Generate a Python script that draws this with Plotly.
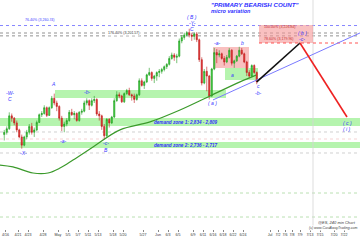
import plotly.graph_objects as go

# ---------------- data ----------------
# half-day candles (ES 240-min look), trading-day index = position / 2
opens = [2780,2790, 2805,2860, 2850,2830, 2800,2770, 2735,2770, 2790,2815, 2790,2800, 2832,2865, 2870,2895, 2862,2895,
         2935,2915, 2900,2850, 2815,2825, 2840,2875, 2865,2870, 2840,2875, 2880,2915, 2925,2905, 2925,2930, 2868,2860,
         2815,2775, 2845,2830, 2855,2925, 2950,2945, 2920,2955, 2968,2950, 2945,2930, 2950,3010, 2990,3005, 3035,3045,
         3020,3030, 3045,3050, 3058,3070, 3080,3105, 3120,3110, 3115,3180, 3195,3205, 3215,3205, 3200,3210, 3185,3100,
         3000,3050, 3030,2945, 3060,3130, 3120,3125, 3105,3090, 3110,3140, 3085,3095, 3115,3140, 3125,3090, 3045,3030,
         3075,3045]
highs = [2800,2815, 2875,2870, 2855,2840, 2805,2780, 2775,2800, 2825,2830, 2810,2840, 2870,2880, 2905,2900, 2900,2945,
         2955,2925, 2905,2860, 2835,2850, 2885,2890, 2880,2875, 2880,2890, 2925,2935, 2930,2935, 2945,2935, 2880,2865,
         2825,2850, 2850,2860, 2935,2965, 2960,2950, 2960,2975, 2980,2955, 2955,2955, 3020,3020, 3010,3040, 3065,3050,
         3035,3050, 3060,3065, 3075,3085, 3115,3130, 3128,3125, 3190,3205, 3215,3222, 3232,3215, 3215,3218, 3190,3110,
         3060,3070, 3035,3065, 3150,3145, 3140,3130, 3115,3120, 3150,3145, 3100,3120, 3155,3150, 3130,3095, 3055,3080,
         3080,3050]
lows = [2755,2780, 2800,2835, 2820,2790, 2765,2720, 2730,2760, 2780,2780, 2770,2795, 2830,2855, 2865,2855, 2860,2890,
        2905,2880, 2840,2795, 2790,2815, 2835,2860, 2845,2835, 2835,2865, 2875,2905, 2885,2900, 2915,2860, 2840,2800,
        2760,2770, 2810,2825, 2850,2920, 2935,2915, 2915,2950, 2945,2925, 2915,2925, 2945,2985, 2975,3000, 3030,3010,
        3000,3010, 3025,3040, 3050,3060, 3075,3100, 3095,3085, 3110,3170, 3185,3200, 3195,3180, 3185,3175, 3090,2990,
        2995,2965, 2930,2940, 3055,3085, 3110,3100, 3075,3085, 3105,3075, 3065,3090, 3110,3120, 3085,3030, 3020,3025,
        3040,2995]
closes = [2790,2805, 2860,2850, 2830,2800, 2770,2735, 2770,2790, 2815,2790, 2800,2832, 2865,2870, 2895,2862, 2895,2935,
          2915,2900, 2850,2815, 2825,2840, 2875,2865, 2870,2840, 2875,2880, 2915,2925, 2905,2925, 2930,2868, 2860,2815,
          2775,2845, 2830,2855, 2925,2950, 2945,2920, 2955,2968, 2950,2945, 2930,2950, 3010,2990, 3005,3035, 3045,3020,
          3030,3045, 3050,3058, 3070,3080, 3105,3120, 3110,3115, 3180,3195, 3205,3215, 3205,3200, 3210,3185, 3100,3000,
          3050,3030, 2945,3060, 3130,3120, 3125,3105, 3090,3110, 3140,3085, 3095,3115, 3140,3125, 3090,3045, 3030,3075,
          3045,3005]

# moving average (trading-day index, price)
ma_x = [-0.6, 2.0, 6.0, 9.0, 11.4, 14.0, 18.0, 23.4, 29.4, 35.4, 41.4, 47.4, 50.6]
ma_y = [2650, 2642, 2616, 2616, 2637, 2671, 2727, 2800, 2834, 2885, 2945, 3005, 3034]

# projected path: last close -> (b) -> (c)
proj_x = [50.75, 59.4, 68.8]
proj_y = [3005, 3171, 2855]

# rising trendline from (a)
trend_x = [42.0, 71.4]
trend_y = [2928, 3214]

# levels
fib_top = 3260.74
fib_176 = 3201.57
fib_100 = 3226.84
fib_786 = 3179.96
zone1 = (2809, 2834)
zone2 = (2717, 2736)

tick_pos = [0.5, 3, 5, 8, 11, 13, 15, 17, 19, 22, 24, 28, 31, 33, 35, 38, 40, 42, 44, 46, 48,
            53.4, 55, 56.4, 57.8, 59.4, 61.4, 63.4, 66.2, 68.2]
tick_text = ["4/16", "4/21", "4/23", "4/28", "May", "5/5", "5/7", "5/11", "5/13", "5/18", "5/20", "5/27",
             "Jun", "6/3", "6/5", "6/9", "6/11", "6/16", "6/18", "6/22", "6/24",
             "Jul", "7/2", "7/6", "7/8", "7/9", "7/13", "7/15", "7/20", "7/22"]

# ---------------- figure ----------------
W, H, PH = 360, 240, 229


def px2x(px):
    return (px - 3) / 5.0


def py2p(py):
    return 2727 + (147 - py) * 4.27


bar_x = [0.25 + 0.5 * i for i in range(len(opens))]

fig = go.Figure()

BLUE = "#2f2fff"
GREEN_BAND = "rgba(150,240,140,0.7)"
PINK = "rgba(245,150,150,0.6)"

shapes = []


def rect(x0, x1, y0, y1, fill, xref="x"):
    shapes.append(dict(type="rect", xref=xref, yref="y", x0=x0, x1=x1, y0=y0, y1=y1,
                       fillcolor=fill, line=dict(width=0), layer="below"))


def hline(y, color, width=0.8, dash="dot", x0=0, x1=1, xref="paper"):
    shapes.append(dict(type="line", xref=xref, yref="y", x0=x0, x1=x1, y0=y, y1=y,
                       line=dict(color=color, width=width, dash=dash), layer="below"))


# bands
rect(0, 1, py2p(126), py2p(118), GREEN_BAND, "paper")
rect(0, 1, py2p(148), py2p(142), GREEN_BAND, "paper")
rect(px2x(55), px2x(226), py2p(98), py2p(90), GREEN_BAND)
rect(px2x(225), px2x(258), py2p(80), py2p(68), GREEN_BAND)
rect(px2x(213), px2x(249), py2p(68), py2p(47), PINK)
rect(px2x(259), px2x(313), py2p(43), py2p(25), PINK)

# lines
hline(fib_top - 15, "#7777ff", 0.9)
hline(fib_176, "#777777", 0.8)
hline(py2p(33), "#777777", 0.8)
hline(py2p(132), "#bbbbbb", 0.7)
hline(py2p(139), "#f0c0c0", 0.7)
hline(py2p(153), "#bbbbbb", 0.7)
hline(py2p(193), "#a8d8a0", 0.8)
hline(py2p(217), "#a8d8a0", 0.8)
hline(py2p(43), "#ff4444", 0.9, "dot", px2x(259), px2x(360), "x")
shapes.append(dict(type="line", xref="x", yref="paper", x0=px2x(313), x1=px2x(313), y0=0, y1=1,
                   line=dict(color="#d4d4d4", width=0.8), layer="below"))

fig.add_trace(go.Candlestick(
    x=bar_x, open=opens, high=highs, low=lows, close=closes,
    increasing=dict(line=dict(color="#1e9a1e", width=0.6), fillcolor="#3ed43e"),
    decreasing=dict(line=dict(color="#c01c1c", width=0.6), fillcolor="#e23030"),
    whiskerwidth=0, showlegend=False, hoverinfo="skip"))

fig.add_trace(go.Scatter(x=ma_x, y=ma_y, mode="lines",
                         line=dict(color="#3b9a2b", width=1.2, shape="spline"),
                         showlegend=False, hoverinfo="skip"))
fig.add_trace(go.Scatter(x=trend_x, y=trend_y, mode="lines",
                         line=dict(color="#7a7aff", width=1.0),
                         showlegend=False, hoverinfo="skip"))
fig.add_trace(go.Scatter(x=proj_x[:2], y=proj_y[:2], mode="lines",
                         line=dict(color="#111111", width=1.6),
                         showlegend=False, hoverinfo="skip"))
fig.add_trace(go.Scatter(x=proj_x[1:], y=proj_y[1:], mode="lines",
                         line=dict(color="#ee2222", width=1.6),
                         showlegend=False, hoverinfo="skip"))

annotations = []


def ann(px, py, text, size, color, xanchor="center", bg=None):
    a = dict(x=px / W, y=1 - py / PH, xref="paper", yref="paper", text=text, showarrow=False,
             xanchor=xanchor, yanchor="middle",
             font=dict(size=size, color=color, family="Arial, Liberation Sans, sans-serif"))
    if bg:
        a["bgcolor"] = bg
        a["borderpad"] = 0
    annotations.append(a)


ann(209, 4, '<b><i>"PRIMARY BEARISH COUNT"</i></b>', 6.2, BLUE, "left")
ann(209, 11, "<b><i>micro variation</i></b>", 5.5, BLUE, "left")
ann(23, 20, "76.40% (3,260.74)", 3.6, "#3b3bff", "left")
ann(107, 33, "176.40% (3,201.57)", 3.6, "#333333", "left", "white")
ann(262, 27, "100.00% (3,226.84)", 3.6, "#c83030", "left")
ann(262, 39, "78.60% (3,179.96)", 3.6, "#c83030", "left")
ann(152, 122, "<b><i>demand zone 1: 2,834 - 2,809</i></b>", 4.6, BLUE, "left")
ann(152, 145, "<b><i>demand zone 2: 2,736 - 2,717</i></b>", 4.6, BLUE, "left")

waves = [(10, 93, "-W-"), (10, 99, "C"), (53, 84, "A"), (63, 141, "-a-"), (87, 92, "-b-"),
         (106, 143, "-c-"), (106, 150, "B"), (23, 153, "-X-"), (192, 17, "( B )"), (192, 23, "-Y-"),
         (192, 29, "C"), (212, 103, "( a )"), (217, 43, "-a-"), (242, 43, "b"), (232, 75, "a"),
         (258, 86, "c"), (258, 93, "-b-"), (302, 33, "( b )"), (302, 39, "-c-"),
         (347, 123, "( c )"), (347, 129, "( i )")]
for px, py, t in waves:
    ann(px, py, "<i>" + t + "</i>", 5, "#3535ff")

ann(358, 222, "<i>@ES, 240 min Chart</i>", 4.0, "#444444", "right")
ann(358, 228, "<i>(c) www.CastAwayTrading.com</i>", 3.5, "#444444", "right", "white")

fig.update_layout(
    width=W, height=H, margin=dict(l=0, r=0, t=0, b=H - PH),
    paper_bgcolor="white", plot_bgcolor="white",
    shapes=shapes, annotations=annotations, showlegend=False,
    xaxis=dict(range=[px2x(0), px2x(360)], rangeslider=dict(visible=False), showgrid=False,
               zeroline=False, tickmode="array", tickvals=tick_pos, ticktext=tick_text,
               tickangle=0, ticks="outside", ticklen=2, tickwidth=0.6, tickcolor="#888",
               tickfont=dict(size=3.6, color="#333", family="Arial, Liberation Sans, sans-serif"),
               showline=False),
    yaxis=dict(range=[py2p(PH), py2p(0)], showgrid=False, zeroline=False, showticklabels=False,
               ticks=""),
)

fig.write_html("out.html")
